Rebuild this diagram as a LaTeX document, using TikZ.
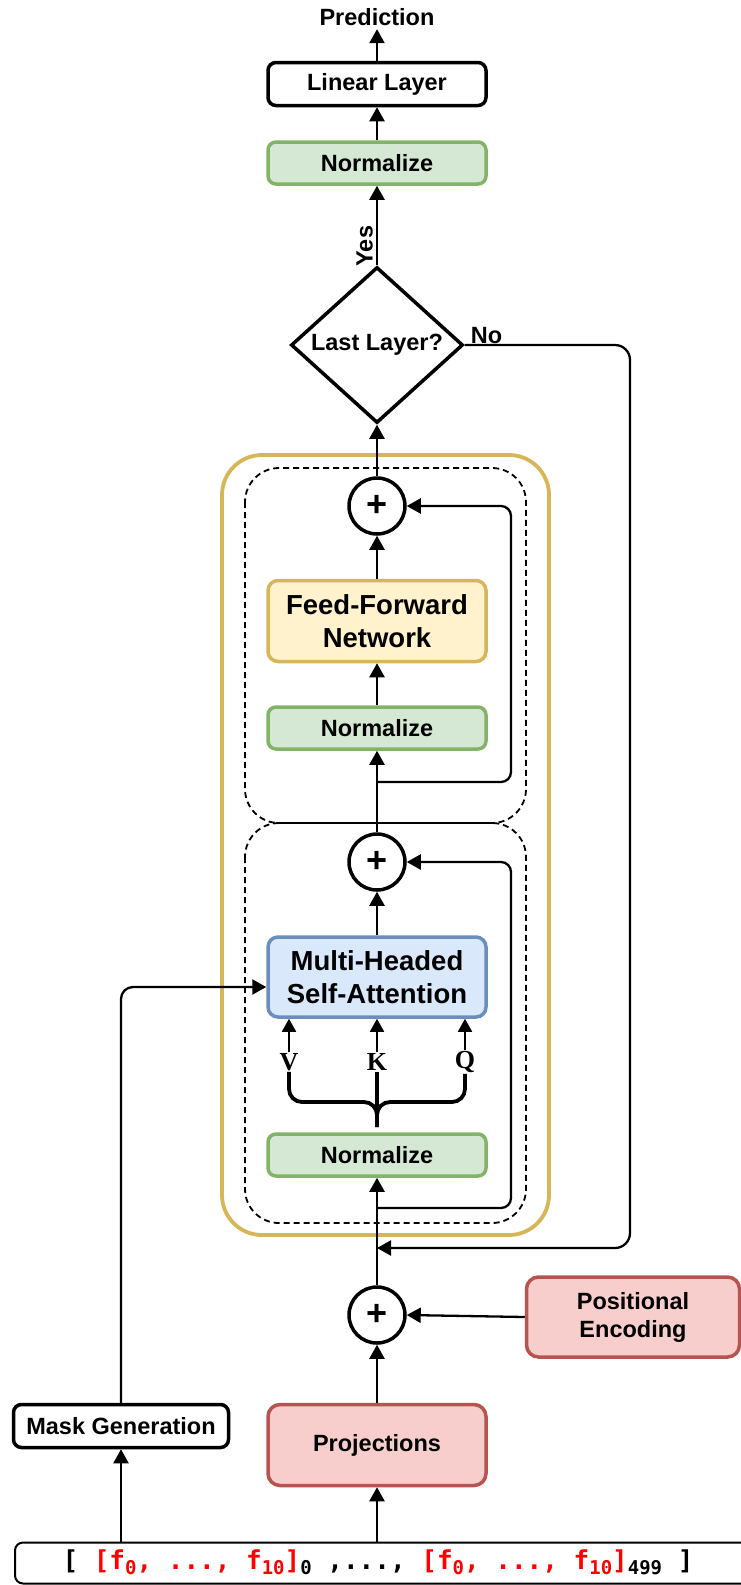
\documentclass[tikz,border=0pt]{standalone}
\usepackage{fontspec}
\setmainfont{Liberation Sans}
\newfontfamily\serifbold{Liberation Serif}
\newfontfamily\monobold{DejaVu Sans Mono}
\usetikzlibrary{arrows.meta,shapes.geometric,calc}

\definecolor{grnfill}{HTML}{D5E8D4}
\definecolor{grnline}{HTML}{82B366}
\definecolor{ylwfill}{HTML}{FFF2CC}
\definecolor{ylwline}{HTML}{D6B656}
\definecolor{blufill}{HTML}{DAE8FC}
\definecolor{bluline}{HTML}{6C8EBF}
\definecolor{redfill}{HTML}{F8CECC}
\definecolor{redline}{HTML}{B85450}
\definecolor{goldline}{HTML}{D6B656}
\definecolor{seqred}{HTML}{FF0000}

\newcommand\lowidx[1]{\raisebox{-5pt}{\fontsize{19}{19}\selectfont #1}}

\begin{document}
\begin{tikzpicture}[x=1pt,y=-1pt,
  lbl/.style={font=\fontsize{23.5}{28}\selectfont\bfseries},
  box/.style={draw, line width=3.5pt, rounded corners=8pt, minimum width=218pt,
              inner sep=0pt, align=center, font=\fontsize{23.5}{28}\selectfont\bfseries},
  bigbox/.style={box, rounded corners=10pt, font=\fontsize{27.5}{33}\selectfont\bfseries},
  normbox/.style={box, draw=grnline, fill=grnfill, minimum height=42pt},
  plainbox/.style={box, draw=black, fill=white},
  redbox/.style={box, rounded corners=12pt, draw=redline, fill=redfill},
  ffnbox/.style={bigbox, draw=ylwline, fill=ylwfill, minimum height=81pt},
  mhsabox/.style={bigbox, draw=bluline, fill=blufill, minimum height=80pt},
  sumnode/.style={circle, draw, line width=3.5pt, fill=white, minimum size=56pt,
                  inner sep=0pt, font=\fontsize{36}{36}\selectfont\bfseries},
  decision/.style={diamond, draw, line width=3.5pt, fill=white, minimum width=172pt,
                   minimum height=156pt, inner sep=0pt, font=\fontsize{23.5}{28}\selectfont\bfseries},
  qkv/.style={inner sep=1pt, font=\fontsize{26}{26}\selectfont\serifbold\bfseries},
  arr/.style={line width=2.3pt, -{Triangle[length=14pt,width=15pt]}},
  thinarr/.style={line width=1.8pt, -{Triangle[length=13pt,width=14pt]}},
  bracestyle/.style={line width=3.8pt},
  goldframe/.style={draw=goldline, line width=3.8pt, rounded corners=40pt},
  dashframe/.style={draw=black, line width=1.8pt, dash pattern=on 6pt off 4pt, rounded corners=34pt},
  seqbox/.style={draw, line width=2pt, rounded corners=8pt, minimum width=746pt,
                 minimum height=41pt, inner sep=0pt}
]
\useasboundingbox (0,0) rectangle (741,1585);

% encoder layer frame and the two sub-layer frames
\draw[goldframe] (222,455) rectangle (549,1235);
\draw[dashframe] (245,468) rectangle (526,823);
\draw[dashframe] (245,823) rectangle (526,1223);

% output head
\node[lbl] (pred) at (377,17) {Prediction};
\node[plainbox, minimum height=43pt] (lin) at (377,84) {Linear Layer};
\node[normbox] (ntop) at (377,163) {Normalize};
\node[decision] (dia) at (377,345) {Last Layer?};

% feed-forward sub-layer
\node[sumnode] (c2) at (377,506) {+};
\node[ffnbox] (ffn) at (377,621) {Feed-Forward\\Network};
\node[normbox] (nmid) at (377,728) {Normalize};

% attention sub-layer
\node[sumnode] (c1) at (377,862) {+};
\node[mhsabox] (mhsa) at (377,977) {Multi-Headed\\Self-Attention};
\node[qkv] (v) at (289,1062) {V};
\node[qkv] (k) at (377,1062) {K};
\node[qkv] (q) at (465,1062) {Q};
\node[normbox] (nlow) at (377,1155) {Normalize};

% input stage
\node[sumnode] (c0) at (377,1315) {+};
\node[redbox, minimum width=213pt, minimum height=80pt] (pe) at (633,1317) {Positional\\Encoding};
\node[redbox, minimum height=81pt] (proj) at (377,1445) {Projections};
\node[plainbox, minimum width=215pt, minimum height=43pt] (mask) at (121,1426) {Mask Generation};
\node[seqbox] (inp) at (388,1563) {};
\node[font=\fontsize{26}{26}\selectfont\monobold\bfseries, inner sep=0pt] (seq) at (378,1562)
  {[ \textcolor{seqred}{[f\lowidx{0}, ..., f\lowidx{10}]}\lowidx{0} ,..., \textcolor{seqred}{[f\lowidx{0}, ..., f\lowidx{10}]}\lowidx{499} ]};

% helper points on the main path
\coordinate (r2) at (377,782);
\coordinate (r1) at (377,1208);
\coordinate (r0) at (377,1248);
\coordinate (bm) at (377,1102);
\coordinate (bs) at (377,1127);

% main flow
\draw[arr] (lin.north) -- (pred.south);
\draw[arr] (ntop.north) -- (lin.south);
\draw[arr] (dia.north) -- node[pos=0.24, anchor=south, rotate=90, inner sep=3pt, lbl] {Yes} (ntop.south);
\draw[arr] (c2.north) -- (dia.south);
\draw[arr] (ffn.north) -- (c2.south);
\draw[arr] (nmid.north) -- (ffn.south);
\draw[arr] (c1.north) -- (nmid.south);
\draw[arr] (mhsa.north) -- (c1.south);
\draw[arr] (c0.north) -- (nlow.south);
\draw[arr] (proj.north) -- (c0.south);
\draw[arr] (pe.west) -- (c0.east);
\draw[arr] (inp.north -| proj.south) -- (proj.south);
\draw[arr] (inp.north -| mask.south) -- (mask.south);

% residual connections
\draw[arr, rounded corners=10pt] (r2) -- (511,782) |- (c2.east);
\draw[arr, rounded corners=10pt] (r1) -- (511,1208) |- (c1.east);

% loop back to the next layer
\draw[arr, rounded corners=15pt] (dia.east) -- (630,345) -- (630,1248) -- (r0);
\node[lbl, anchor=south west, inner sep=1pt, xshift=5pt] (no) at (dia.east) {No};

% mask into attention
\draw[arr, rounded corners=12pt] (mask.north) |- ([yshift=-10pt]mhsa.west);

% V, K, Q inputs
\draw[thinarr] (v.north) -- (v.north |- mhsa.south);
\draw[thinarr] (k.north) -- (k.north |- mhsa.south);
\draw[thinarr] (q.north) -- (q.north |- mhsa.south);
\draw[bracestyle, rounded corners=13pt] (v.south) |- (bm) -- (bs);
\draw[bracestyle, rounded corners=13pt] (q.south) |- (bm) -- (bs);
\draw[bracestyle] (k.south) -- (bs);
\end{tikzpicture}
\end{document}
